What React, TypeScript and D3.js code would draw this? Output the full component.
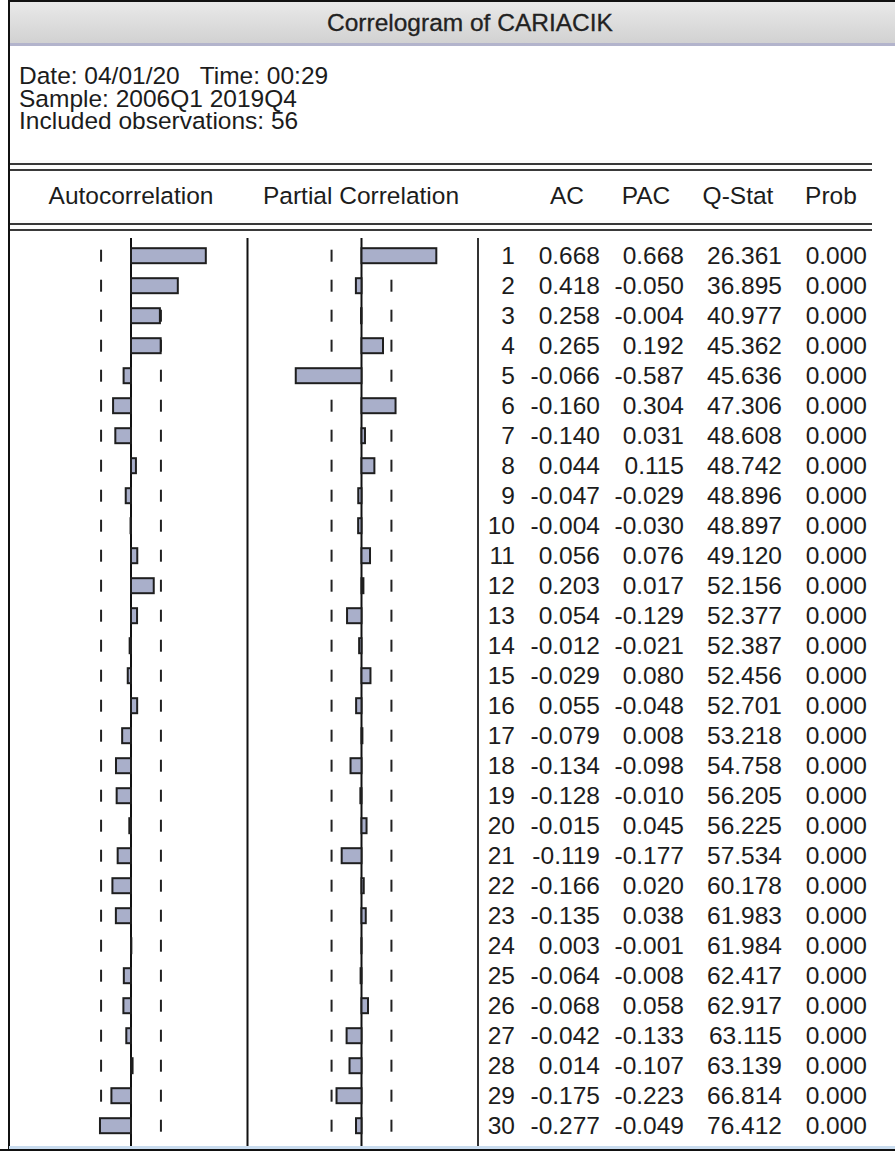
import React from "react";
import * as d3 from "d3";

// Correlogram of CARIACIK, lags 1..30
const lags: number[] = d3.range(1, 31);
const acValues: number[] = [
  0.668, 0.418, 0.258, 0.265, -0.066, -0.16, -0.14, 0.044, -0.047, -0.004,
  0.056, 0.203, 0.054, -0.012, -0.029, 0.055, -0.079, -0.134, -0.128, -0.015,
  -0.119, -0.166, -0.135, 0.003, -0.064, -0.068, -0.042, 0.014, -0.175, -0.277,
];
const pacValues: number[] = [
  0.668, -0.05, -0.004, 0.192, -0.587, 0.304, 0.031, 0.115, -0.029, -0.03,
  0.076, 0.017, -0.129, -0.021, 0.08, -0.048, 0.008, -0.098, -0.01, 0.045,
  -0.177, 0.02, 0.038, -0.001, -0.008, 0.058, -0.133, -0.107, -0.223, -0.049,
];
const qStat: number[] = [
  26.361, 36.895, 40.977, 45.362, 45.636, 47.306, 48.608, 48.742, 48.896,
  48.897, 49.12, 52.156, 52.377, 52.387, 52.456, 52.701, 53.218, 54.758,
  56.205, 56.225, 57.534, 60.178, 61.983, 61.984, 62.417, 62.917, 63.115,
  63.139, 66.814, 76.412,
];
const probValues: number[] = [
  0, 0, 0, 0, 0, 0, 0, 0, 0, 0, 0, 0, 0, 0, 0, 0, 0, 0, 0, 0, 0, 0, 0, 0, 0,
  0, 0, 0, 0, 0,
];
const observations = 56;
const title = "Correlogram of CARIACIK";
const infoLines: string[] = [
  "Date: 04/01/20   Time: 00:29",
  "Sample: 2006Q1 2019Q4",
  "Included observations: 56",
];
const columnHeaders: string[] = ["AC", "PAC", "Q-Stat", "Prob"];

const W = 895;
const H = 1151;
const FONT = "'Liberation Sans', Arial, sans-serif";
const FS = 24.5;
const INK = "#1c1c1c";
const BAR_FILL = "#a9afca";
const BAR_STROKE = "#1e1e1e";

// fixed three decimals with a plain hyphen for negatives
const fmt3 = (v: number) => d3.format(".3f")(v).replace("\u2212", "-");

export default function App() {
  const bound = 2 / Math.sqrt(observations);
  const xAC = d3.scaleLinear().domain([-1, 1]).range([131 - 112, 131 + 112]);
  const xPAC = d3.scaleLinear().domain([-1, 1]).range([361.5 - 112, 361.5 + 112]);
  const yRow = d3.scaleLinear().domain([1, 30]).range([255.7, 1125.7]);
  const barH = 15;
  const dashH = 12;

  const numCols = [
    { right: 600, values: acValues },
    { right: 684, values: pacValues },
    { right: 782, values: qStat },
    { right: 867, values: probValues },
  ];
  const headerCenters = [567, 646, 738, 831];

  const bars = (x: d3.ScaleLinear<number, number>, vals: number[], key: string) =>
    vals.map((v, i) => {
      const y = yRow(lags[i]);
      const x0 = x(0);
      const x1 = x(v);
      return (
        <rect
          key={key + i}
          x={Math.min(x0, x1)}
          y={y - barH / 2}
          width={Math.abs(x1 - x0)}
          height={barH}
          fill={BAR_FILL}
          stroke={BAR_STROKE}
          strokeWidth={2}
        />
      );
    });

  const dashes = (x: d3.ScaleLinear<number, number>, key: string) =>
    lags.flatMap((l) =>
      [-bound, bound].map((b, j) => (
        <line
          key={key + l + "_" + j}
          x1={x(b)}
          x2={x(b)}
          y1={yRow(l) - dashH / 2}
          y2={yRow(l) + dashH / 2}
          stroke="#222"
          strokeWidth={2}
        />
      ))
    );

  const doubleLine = (y: number, key: string) => (
    <g key={key}>
      <line x1={10} x2={872} y1={y} y2={y} stroke="#3a3a3a" strokeWidth={2} />
      <line x1={10} x2={872} y1={y + 6} y2={y + 6} stroke="#3a3a3a" strokeWidth={2} />
    </g>
  );

  const lineTop = 238;
  const lineBottom = 1147;

  return (
    <svg
      width={W}
      height={H}
      viewBox={`0 0 ${W} ${H}`}
      style={{ position: "absolute", left: 0, top: 0, background: "#fff" }}
      fontFamily={FONT}
    >
      <defs>
        <linearGradient id="titleGrad" x1="0" x2="0" y1="0" y2="1">
          <stop offset="0" stopColor="#e9e9e9" />
          <stop offset="1" stopColor="#d1d1d1" />
        </linearGradient>
      </defs>
      <rect x={0} y={0} width={W} height={H} fill="#fff" />

      {/* title bar */}
      <rect x={9} y={2} width={W - 9} height={42} fill="url(#titleGrad)" />
      <rect x={9} y={43} width={W - 9} height={3} fill="#b3b4cc" />
      <line x1={8} x2={W} y1={1} y2={1} stroke="#111" strokeWidth={2} />
      <text x={470} y={31} textAnchor="middle" fontSize={FS} fill="#222" stroke="#222" strokeWidth={0.3}>
        {title}
      </text>

      {/* info block */}
      {infoLines.map((t, i) => (
        <text key={t} x={19} y={84 + i * 22.5} fontSize={FS} fill={INK} style={{ whiteSpace: "pre" }}>
          {t}
        </text>
      ))}

      {doubleLine(164, "d1")}
      {doubleLine(224, "d2")}

      {/* column headers */}
      <text x={131} y={204} textAnchor="middle" fontSize={FS} fill={INK}>
        Autocorrelation
      </text>
      <text x={361} y={204} textAnchor="middle" fontSize={FS} fill={INK}>
        Partial Correlation
      </text>
      {columnHeaders.map((h, i) => (
        <text key={h} x={headerCenters[i]} y={204} textAnchor="middle" fontSize={FS} fill={INK}>
          {h}
        </text>
      ))}

      {/* vertical guides */}
      <line x1={xAC(0)} x2={xAC(0)} y1={lineTop} y2={lineBottom} stroke="#111" strokeWidth={2} />
      <line x1={247.5} x2={247.5} y1={lineTop} y2={lineBottom} stroke="#111" strokeWidth={2} />
      <line x1={xPAC(0)} x2={xPAC(0)} y1={lineTop} y2={lineBottom} stroke="#111" strokeWidth={2} />
      <line x1={478} x2={478} y1={lineTop} y2={lineBottom} stroke="#333" strokeWidth={2} />

      {dashes(xAC, "da")}
      {dashes(xPAC, "dp")}
      {bars(xAC, acValues, "ba")}
      {bars(xPAC, pacValues, "bp")}

      {/* table */}
      {lags.map((l, i) => {
        const y = yRow(l) + 8.6;
        return (
          <g key={"row" + l} fontSize={FS} fill={INK} textAnchor="end">
            <text x={515} y={y}>{l}</text>
            {numCols.map((c, j) => (
              <text key={j} x={c.right} y={y}>
                {fmt3(c.values[i])}
              </text>
            ))}
          </g>
        );
      })}

      {/* frame */}
      <line x1={9} x2={9} y1={0} y2={H} stroke="#111" strokeWidth={2} />
      <rect x={9} y={1146} width={W - 9} height={3} fill="#c9dcef" />
      <rect x={0} y={1149} width={W} height={2} fill="#111" />
    </svg>
  );
}
